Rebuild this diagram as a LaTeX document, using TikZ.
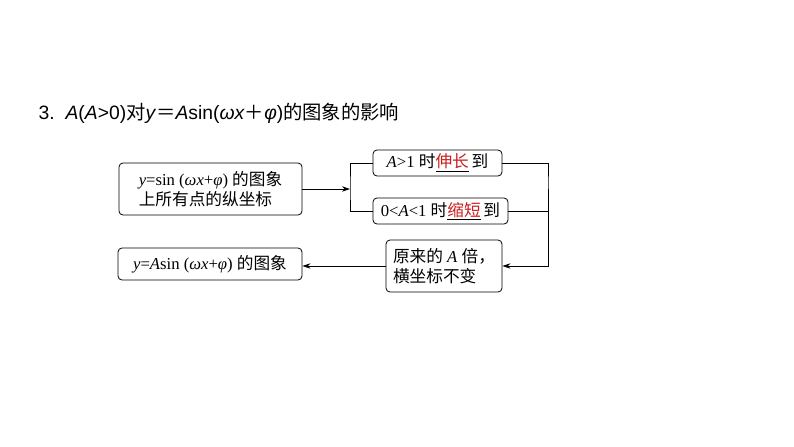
\documentclass[tikz,border=0pt]{standalone}
\usepackage{fontspec}
\setmainfont{Liberation Serif}
\newfontfamily\cjk{Noto Sans CJK SC}
\newfontfamily\ttl{Liberation Sans}
\usetikzlibrary{arrows.meta}
\definecolor{redt}{RGB}{200,30,30}
\newcommand{\ul}[1]{\underline{\textcolor{redt}{#1}}}
\begin{document}
\begin{tikzpicture}[x=0.75pt,y=-0.75pt,
  bx/.style={draw,semithick,rounded corners=3pt,inner sep=0pt,font=\fontsize{12.5}{15.5}\selectfont},
  ln/.style={semithick},
  ar/.style={semithick,-{Stealth[length=6pt,width=4pt]}}]
\useasboundingbox (0,0) rectangle (794,447);
\node[anchor=west,font=\fontsize{14.5}{16}\selectfont] (t) at (34,113) {\ttl 3.\ \ \textit{A}(\textit{A}>0){\cjk 对}\textit{y}{\cjk ＝}\textit{A}sin(\textit{ω}\textit{x}{\cjk ＋}\textit{φ}){\cjk 的图象的影响}};
\node[bx,minimum width=137.25pt,minimum height=39pt,align=left] (b1) at (210.5,189) {\textit{y}=sin (\textit{ω}\textit{x}+\textit{φ}) {\cjk 的图象}\\{\cjk 上所有点的纵坐标}};
\node[bx,minimum width=96.75pt,minimum height=19.5pt] (b2) at (437.5,163) {\textit{A}>1 {\cjk 时\ul{伸长}\,到}};
\node[bx,minimum width=101.25pt,minimum height=19.5pt] (b3) at (440.5,211) {0<\textit{A}<1 {\cjk 时\ul{缩短}\,到}};
\node[bx,minimum width=87pt,minimum height=39pt,align=left] (b4) at (444,266) {{\cjk 原来的} \textit{A} {\cjk 倍，}\\{\cjk 横坐标不变}};
\node[bx,minimum width=138pt,minimum height=24pt] (b5) at (210,264) {\textit{y}=\textit{A}sin (\textit{ω}\textit{x}+\textit{φ}) {\cjk 的图象}};
\coordinate (l) at (350,189);
\coordinate (r) at (548,189);
\draw[ar] (b1.east) -- (l);
\draw[ln] (b2.west) -| (l) |- (b3.west);
\draw[ln] (b2.east) -| (r) |- (b3.east);
\draw[ar] (r) |- (b4.east);
\draw[ar] (b4.west) -- (b4.west -| b5.east);
\end{tikzpicture}
\end{document}
